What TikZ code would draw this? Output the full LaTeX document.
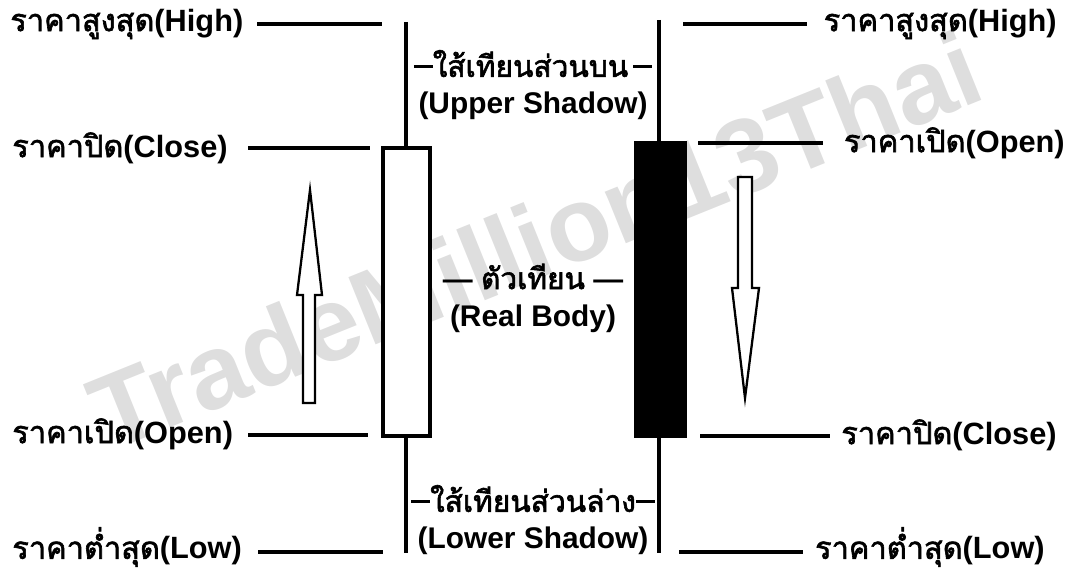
\documentclass[tikz,border=0pt]{standalone}
\usepackage{fontspec}
\setmainfont{Liberation Sans}
\newfontfamily\thaifont[Script=Thai,AutoFakeBold=2]{Loma}
\usetikzlibrary{calc,positioning}
\newcommand{\thtext}[1]{{\thaifont #1}}
\newcommand{\shadowdash}{\rule[0.3em]{0.38cm}{1.8pt}}

\begin{document}
\begin{tikzpicture}[x=0.02cm,y=-0.02cm]

\tikzset{pricelabel/.style={font=\bfseries\fontsize{17.5}{19}\selectfont,inner sep=0pt},
partlabel/.style={font=\bfseries\fontsize{17}{21}\selectfont,inner sep=0pt,align=center},
leader/.style={line width=2.1pt},
wick/.style={line width=2.1pt},
bodybox/.style={line width=2.1pt,draw=black},
trendarrow/.style={line width=1.3pt,draw=black,fill=white,line join=miter}}

\useasboundingbox (0,0) rectangle (1070,571);

% Watermark
\node[rotate=22,text=black!13,font=\bfseries\fontsize{60}{60}\selectfont] (mark) at (535,240) {TradeMillion13Thai};

% White candle (up)
\coordinate (whigh) at (406,22);
\coordinate (wlow) at (406,553);
\draw[wick] (whigh) -- (wlow);
\draw[bodybox,fill=white] (383,148) rectangle (430,436);

% Black candle (down)
\coordinate (bhigh) at (659,20);
\coordinate (blow) at (659,553);
\draw[wick] (bhigh) -- (blow);
\draw[bodybox,fill=black] (636,143) rectangle (685,436);

% Left labels
\node[pricelabel,anchor=west] (lhigh) at (10,24) {\thtext{ราคาสูงสุด}(High)};
\node[pricelabel,anchor=west] (lclose) at (12,148) {\thtext{ราคาปิด}(Close)};
\node[pricelabel,anchor=west] (lopen) at (12,434) {\thtext{ราคาเปิด}(Open)};
\node[pricelabel,anchor=west] (llow) at (12,547) {\thtext{ราคาต่ำสุด}(Low)};
\draw[leader] (257,24) coordinate (lh1) -- (382,24) coordinate (lh2);
\draw[leader] (248,148) coordinate (lc1) -- (370,148) coordinate (lc2);
\draw[leader] (248,435) coordinate (lo1) -- (368,435) coordinate (lo2);
\draw[leader] (258,552) coordinate (ll1) -- (383,552) coordinate (ll2);

% Right labels
\node[pricelabel,anchor=east] (rhigh) at (1057,24) {\thtext{ราคาสูงสุด}(High)};
\node[pricelabel,anchor=east] (ropen) at (1065,143) {\thtext{ราคาเปิด}(Open)};
\node[pricelabel,anchor=east] (rclose) at (1057,435) {\thtext{ราคาปิด}(Close)};
\node[pricelabel,anchor=east] (rlow) at (1045,547) {\thtext{ราคาต่ำสุด}(Low)};
\draw[leader] (683,24) coordinate (rh1) -- (807,24) coordinate (rh2);
\draw[leader] (698,143) coordinate (ro1) -- (823,143) coordinate (ro2);
\draw[leader] (700,436) coordinate (rc1) -- (830,436) coordinate (rc2);
\draw[leader] (679,552) coordinate (rl1) -- (803,552) coordinate (rl2);

% Part labels
\node[partlabel] (upper) at (533,85) {\shadowdash\thtext{ใส้เทียนส่วนบน}\,\shadowdash\\(Upper Shadow)};
\node[partlabel] (realbody) at (533,298) {— \thtext{ตัวเทียน} —\\(Real Body)};
\node[partlabel] (lower) at (533,520) {\shadowdash\thtext{ใส้เทียนส่วนล่าง}\shadowdash\\(Lower Shadow)};

% Trend arrows
\draw[trendarrow] (310,190) -- (322,295) -- (315,295) -- (315,403) -- (303,403) -- (303,295) -- (297,295) -- cycle;
\draw[trendarrow] (745,398) -- (759,288) -- (752,288) -- (752,177) -- (738,177) -- (738,288) -- (732,288) -- cycle;

\end{tikzpicture}
\end{document}
